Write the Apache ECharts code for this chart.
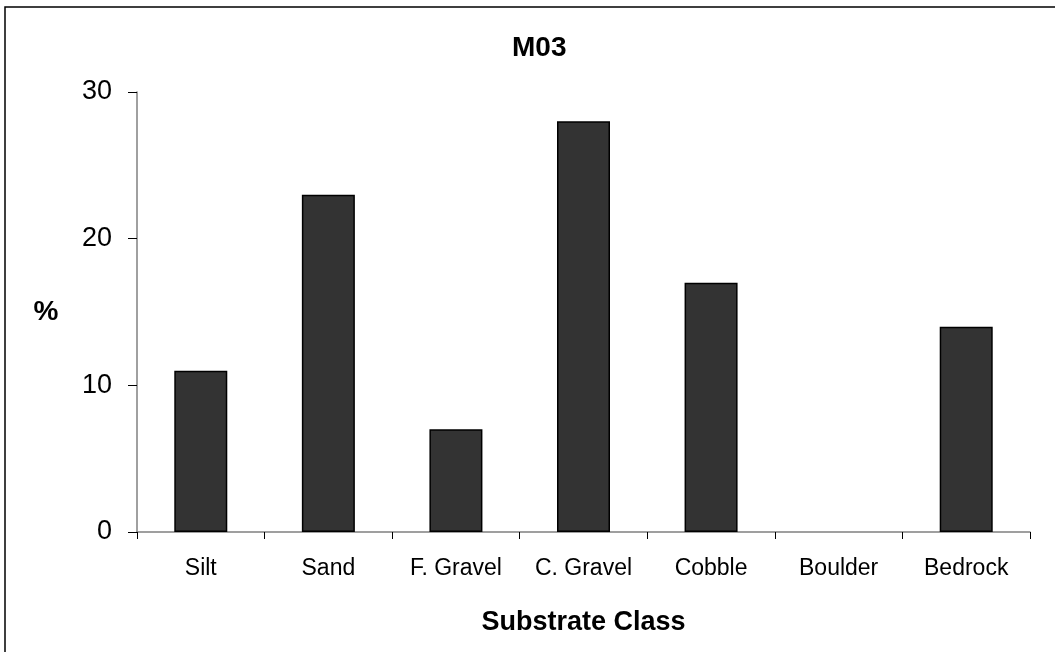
<!DOCTYPE html>
<html>
<head>
<meta charset="utf-8">
<script src="https://cdn.jsdelivr.net/npm/echarts@6/dist/echarts.min.js"></script>
<style>
  html, body { margin: 0; padding: 0; background: #fff; }
  #chart { width: 1055px; height: 652px; }
</style>
</head>
<body>
<div id="chart"></div>
<script>
  // substrate classes and percent for site M03
  var categories = ['Silt', 'Sand', 'F. Gravel', 'C. Gravel', 'Cobble', 'Boulder', 'Bedrock'];
  var percents = [11, 23, 7, 28, 17, 0, 14];
  var yTicks = { min: 0, max: 30, interval: 10 };

  var font = '"Liberation Sans", Arial, sans-serif';
  var myChart = echarts.init(document.getElementById('chart'), null, { renderer: 'canvas' });

  // zero bars get no outline, like the original
  var barData = percents.map(function (v) {
    return v === 0 ? { value: v, itemStyle: { borderWidth: 0 } } : v;
  });

  myChart.setOption({
    animation: false,
    backgroundColor: '#fff',
    title: {
      text: 'M03',
      left: 512,
      top: 34,
      padding: 0,
      textStyle: { fontFamily: font, fontSize: 28, fontWeight: 'bold', color: '#000' }
    },
    graphic: [{
      type: 'rect',
      shape: { x: 5, y: 7, width: 1200, height: 800 },
      style: { fill: 'none', stroke: '#000', lineWidth: 1.5 },
      silent: true
    }],
    grid: {
      left: 137,
      right: 25,
      top: 92,
      bottom: 120
    },
    xAxis: {
      type: 'category',
      data: categories,
      name: 'Substrate Class',
      nameLocation: 'middle',
      nameGap: 77,
      nameTextStyle: { fontFamily: font, fontSize: 27, fontWeight: 'bold', color: '#000' },
      axisLine: { lineStyle: { color: '#808080', width: 1.5 } },
      axisTick: { show: true, length: 7, lineStyle: { color: '#000', width: 1 } },
      axisLabel: { margin: 25, fontFamily: font, fontSize: 23, color: '#000' },
      splitLine: { show: false }
    },
    yAxis: {
      type: 'value',
      min: yTicks.min,
      max: yTicks.max,
      interval: yTicks.interval,
      name: '%',
      nameLocation: 'middle',
      nameRotate: 0,
      nameGap: 91,
      nameTextStyle: { fontFamily: font, fontSize: 28, fontWeight: 'bold', color: '#000', align: 'center' },
      axisLine: { show: true, lineStyle: { color: '#808080', width: 1.5 } },
      axisTick: { show: true, length: 9, lineStyle: { color: '#000', width: 1 } },
      axisLabel: { margin: 25, fontFamily: font, fontSize: 27, color: '#000' },
      splitLine: { show: false }
    },
    series: [{
      type: 'bar',
      data: barData,
      barWidth: 53,
      itemStyle: { color: '#333333', borderColor: '#000', borderWidth: 1.5 }
    }]
  });
</script>
</body>
</html>
